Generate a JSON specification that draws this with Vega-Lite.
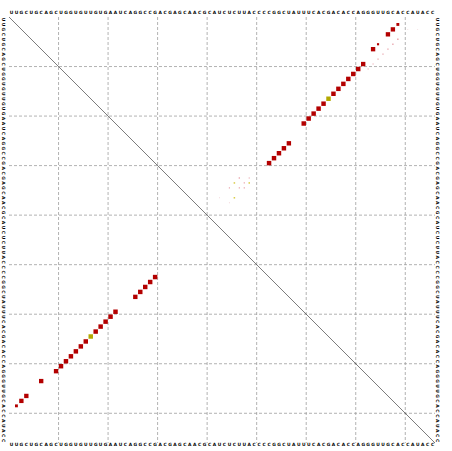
{
  "$schema": "https://vega.github.io/schema/vega-lite/v6.json",
  "width": 426,
  "height": 426,
  "padding": {"left": 9, "top": 17, "right": 17, "bottom": 8},
  "autosize": {"type": "none"},
  "background": "white",
  "config": {"view": {"stroke": null}},
  "datasets": {
    "seq": [
      {"pos":1,"base":"U"},{"pos":2,"base":"U"},{"pos":3,"base":"G"},{"pos":4,"base":"C"},{"pos":5,"base":"U"},
      {"pos":6,"base":"G"},{"pos":7,"base":"C"},{"pos":8,"base":"A"},{"pos":9,"base":"G"},{"pos":10,"base":"C"},
      {"pos":11,"base":"U"},{"pos":12,"base":"G"},{"pos":13,"base":"G"},{"pos":14,"base":"U"},{"pos":15,"base":"G"},
      {"pos":16,"base":"U"},{"pos":17,"base":"U"},{"pos":18,"base":"G"},{"pos":19,"base":"U"},{"pos":20,"base":"G"},
      {"pos":21,"base":"A"},{"pos":22,"base":"A"},{"pos":23,"base":"U"},{"pos":24,"base":"C"},{"pos":25,"base":"A"},
      {"pos":26,"base":"G"},{"pos":27,"base":"G"},{"pos":28,"base":"C"},{"pos":29,"base":"C"},{"pos":30,"base":"G"},
      {"pos":31,"base":"A"},{"pos":32,"base":"C"},{"pos":33,"base":"G"},{"pos":34,"base":"A"},{"pos":35,"base":"G"},
      {"pos":36,"base":"C"},{"pos":37,"base":"A"},{"pos":38,"base":"A"},{"pos":39,"base":"C"},{"pos":40,"base":"G"},
      {"pos":41,"base":"C"},{"pos":42,"base":"A"},{"pos":43,"base":"U"},{"pos":44,"base":"C"},{"pos":45,"base":"U"},
      {"pos":46,"base":"C"},{"pos":47,"base":"U"},{"pos":48,"base":"U"},{"pos":49,"base":"A"},{"pos":50,"base":"C"},
      {"pos":51,"base":"C"},{"pos":52,"base":"C"},{"pos":53,"base":"C"},{"pos":54,"base":"G"},{"pos":55,"base":"G"},
      {"pos":56,"base":"C"},{"pos":57,"base":"U"},{"pos":58,"base":"A"},{"pos":59,"base":"U"},{"pos":60,"base":"U"},
      {"pos":61,"base":"U"},{"pos":62,"base":"C"},{"pos":63,"base":"A"},{"pos":64,"base":"C"},{"pos":65,"base":"G"},
      {"pos":66,"base":"A"},{"pos":67,"base":"C"},{"pos":68,"base":"A"},{"pos":69,"base":"C"},{"pos":70,"base":"C"},
      {"pos":71,"base":"A"},{"pos":72,"base":"G"},{"pos":73,"base":"G"},{"pos":74,"base":"G"},{"pos":75,"base":"U"},
      {"pos":76,"base":"U"},{"pos":77,"base":"G"},{"pos":78,"base":"C"},{"pos":79,"base":"A"},{"pos":80,"base":"C"},
      {"pos":81,"base":"C"},{"pos":82,"base":"A"},{"pos":83,"base":"U"},{"pos":84,"base":"A"},{"pos":85,"base":"C"},
      {"pos":86,"base":"C"}
    ],
    "grid": [{"g":10.5},{"g":20.5},{"g":30.5},{"g":40.5},{"g":50.5},{"g":60.5},{"g":70.5},{"g":80.5}],
    "upper": [
      {"i":2,"j":79,"p":0.4,"kind":"1 type"},
      {"i":3,"j":78,"p":0.9,"kind":"1 type"},
      {"i":4,"j":77,"p":0.9,"kind":"1 type"},
      {"i":7,"j":74,"p":0.9,"kind":"1 type"},
      {"i":10,"j":72,"p":0.92,"kind":"1 type"},
      {"i":11,"j":71,"p":0.95,"kind":"1 type"},
      {"i":12,"j":70,"p":0.95,"kind":"1 type"},
      {"i":13,"j":69,"p":0.95,"kind":"1 type"},
      {"i":14,"j":68,"p":0.95,"kind":"1 type"},
      {"i":15,"j":67,"p":0.95,"kind":"1 type"},
      {"i":16,"j":66,"p":0.95,"kind":"1 type"},
      {"i":17,"j":65,"p":0.95,"kind":"2 types"},
      {"i":18,"j":64,"p":0.95,"kind":"1 type"},
      {"i":19,"j":63,"p":0.95,"kind":"1 type"},
      {"i":20,"j":62,"p":0.95,"kind":"1 type"},
      {"i":21,"j":61,"p":0.95,"kind":"1 type"},
      {"i":22,"j":60,"p":0.95,"kind":"1 type"},
      {"i":26,"j":57,"p":0.92,"kind":"1 type"},
      {"i":27,"j":56,"p":0.95,"kind":"1 type"},
      {"i":28,"j":55,"p":0.95,"kind":"1 type"},
      {"i":29,"j":54,"p":0.95,"kind":"1 type"},
      {"i":30,"j":53,"p":0.95,"kind":"1 type"},
      {"i":6,"j":75,"p":0.22,"kind":"1 type"},
      {"i":5,"j":79,"p":0.1,"kind":"1 type, weak"},
      {"i":6,"j":78,"p":0.08,"kind":"1 type, weak"},
      {"i":7,"j":77,"p":0.08,"kind":"1 type, weak"},
      {"i":8,"j":76,"p":0.07,"kind":"1 type, weak"},
      {"i":9,"j":75,"p":0.07,"kind":"1 type, weak"},
      {"i":10,"j":74,"p":0.06,"kind":"1 type, weak"},
      {"i":11,"j":73,"p":0.05,"kind":"1 type, weak"},
      {"i":3,"j":81,"p":0.04,"kind":"faint"},
      {"i":3,"j":83,"p":0.04,"kind":"faint"},
      {"i":33,"j":47,"p":0.09,"kind":"1 type, weak"},
      {"i":33,"j":49,"p":0.07,"kind":"1 type, weak"},
      {"i":34,"j":46,"p":0.11,"kind":"2 types, weak"},
      {"i":34,"j":48,"p":0.07,"kind":"1 type, weak"},
      {"i":34,"j":49,"p":0.11,"kind":"2 types, weak"},
      {"i":35,"j":45,"p":0.07,"kind":"1 type, weak"},
      {"i":35,"j":47,"p":0.07,"kind":"1 type, weak"},
      {"i":35,"j":48,"p":0.07,"kind":"1 type, weak"},
      {"i":37,"j":46,"p":0.11,"kind":"2 types, weak"},
      {"i":37,"j":43,"p":0.04,"kind":"faint"},
      {"i":38,"j":45,"p":0.05,"kind":"faint"}
    ],
    "lower": [
      {"i":2,"j":79,"p":0.4,"kind":"1 type"},
      {"i":3,"j":78,"p":0.9,"kind":"1 type"},
      {"i":4,"j":77,"p":0.9,"kind":"1 type"},
      {"i":7,"j":74,"p":0.9,"kind":"1 type"},
      {"i":10,"j":72,"p":0.92,"kind":"1 type"},
      {"i":11,"j":71,"p":0.95,"kind":"1 type"},
      {"i":12,"j":70,"p":0.95,"kind":"1 type"},
      {"i":13,"j":69,"p":0.95,"kind":"1 type"},
      {"i":14,"j":68,"p":0.95,"kind":"1 type"},
      {"i":15,"j":67,"p":0.95,"kind":"1 type"},
      {"i":16,"j":66,"p":0.95,"kind":"1 type"},
      {"i":17,"j":65,"p":0.95,"kind":"2 types"},
      {"i":18,"j":64,"p":0.95,"kind":"1 type"},
      {"i":19,"j":63,"p":0.95,"kind":"1 type"},
      {"i":20,"j":62,"p":0.95,"kind":"1 type"},
      {"i":21,"j":61,"p":0.95,"kind":"1 type"},
      {"i":22,"j":60,"p":0.95,"kind":"1 type"},
      {"i":26,"j":57,"p":0.92,"kind":"1 type"},
      {"i":27,"j":56,"p":0.95,"kind":"1 type"},
      {"i":28,"j":55,"p":0.95,"kind":"1 type"},
      {"i":29,"j":54,"p":0.95,"kind":"1 type"},
      {"i":30,"j":53,"p":0.95,"kind":"1 type"}
    ]
  },
  "layer": [
    {
      "data": {"name": "grid"},
      "mark": {"type": "rule", "color": "#9e9e9e", "strokeWidth": 0.8, "strokeDash": [3, 2]},
      "encoding": {
        "x": {"field": "g", "type": "quantitative", "scale": {"domain": [0.5, 86.5], "zero": false, "nice": false}, "axis": null},
        "y": {"datum": 0.5, "type": "quantitative", "scale": {"domain": [0.5, 86.5], "zero": false, "nice": false, "reverse": true}, "axis": null},
        "y2": {"datum": 86.5}
      }
    },
    {
      "data": {"name": "grid"},
      "mark": {"type": "rule", "color": "#9e9e9e", "strokeWidth": 0.8, "strokeDash": [3, 2]},
      "encoding": {
        "y": {"field": "g", "type": "quantitative", "axis": null},
        "x": {"datum": 0.5, "type": "quantitative", "axis": null},
        "x2": {"datum": 86.5}
      }
    },
    {
      "data": {"values": [{"a": 1}]},
      "mark": {"type": "rule", "color": "#444444", "strokeWidth": 0.7},
      "encoding": {
        "x": {"datum": 0.5, "type": "quantitative", "axis": null},
        "y": {"datum": 0.5, "type": "quantitative", "axis": null},
        "x2": {"datum": 86.5},
        "y2": {"datum": 86.5}
      }
    },
    {
      "data": {"name": "upper"},
      "mark": {"type": "square", "opacity": 1, "strokeWidth": 0},
      "encoding": {
        "x": {"field": "j", "type": "quantitative", "axis": null},
        "y": {"field": "i", "type": "quantitative", "axis": null},
        "size": {"field": "p", "type": "quantitative", "scale": {"type": "linear", "domain": [0, 1], "range": [0, 21]}, "legend": null},
        "color": {"field": "kind", "type": "nominal", "scale": {"domain": ["1 type", "2 types", "1 type, weak", "2 types, weak", "faint"], "range": ["#b30000", "#b3a800", "#e8a3ab", "#d9cc45", "#f2d6da"]}, "legend": null}
      }
    },
    {
      "data": {"name": "lower"},
      "mark": {"type": "square", "opacity": 1, "strokeWidth": 0},
      "encoding": {
        "x": {"field": "i", "type": "quantitative", "axis": null},
        "y": {"field": "j", "type": "quantitative", "axis": null},
        "size": {"field": "p", "type": "quantitative", "legend": null},
        "color": {"field": "kind", "type": "nominal", "legend": null}
      }
    },
    {
      "data": {"name": "seq"},
      "mark": {"type": "text", "font": "DejaVu Sans", "fontSize": 4.4, "fontWeight": "bold", "align": "center", "baseline": "middle", "color": "black"},
      "encoding": {
        "x": {"field": "pos", "type": "quantitative", "axis": null},
        "y": {"datum": -0.3, "type": "quantitative", "axis": null},
        "text": {"field": "base"}
      }
    },
    {
      "data": {"name": "seq"},
      "mark": {"type": "text", "font": "DejaVu Sans", "fontSize": 4.4, "fontWeight": "bold", "align": "center", "baseline": "middle", "color": "black"},
      "encoding": {
        "x": {"field": "pos", "type": "quantitative", "axis": null},
        "y": {"datum": 87.0, "type": "quantitative", "axis": null},
        "text": {"field": "base"}
      }
    },
    {
      "data": {"name": "seq"},
      "mark": {"type": "text", "font": "DejaVu Sans", "fontSize": 4.4, "fontWeight": "bold", "align": "center", "baseline": "middle", "angle": 90, "color": "black"},
      "encoding": {
        "y": {"field": "pos", "type": "quantitative", "axis": null},
        "x": {"datum": -0.7, "type": "quantitative", "axis": null},
        "text": {"field": "base"}
      }
    },
    {
      "data": {"name": "seq"},
      "mark": {"type": "text", "font": "DejaVu Sans", "fontSize": 4.4, "fontWeight": "bold", "align": "center", "baseline": "middle", "angle": 90, "color": "black"},
      "encoding": {
        "y": {"field": "pos", "type": "quantitative", "axis": null},
        "x": {"datum": 86.9, "type": "quantitative", "axis": null},
        "text": {"field": "base"}
      }
    }
  ]
}
